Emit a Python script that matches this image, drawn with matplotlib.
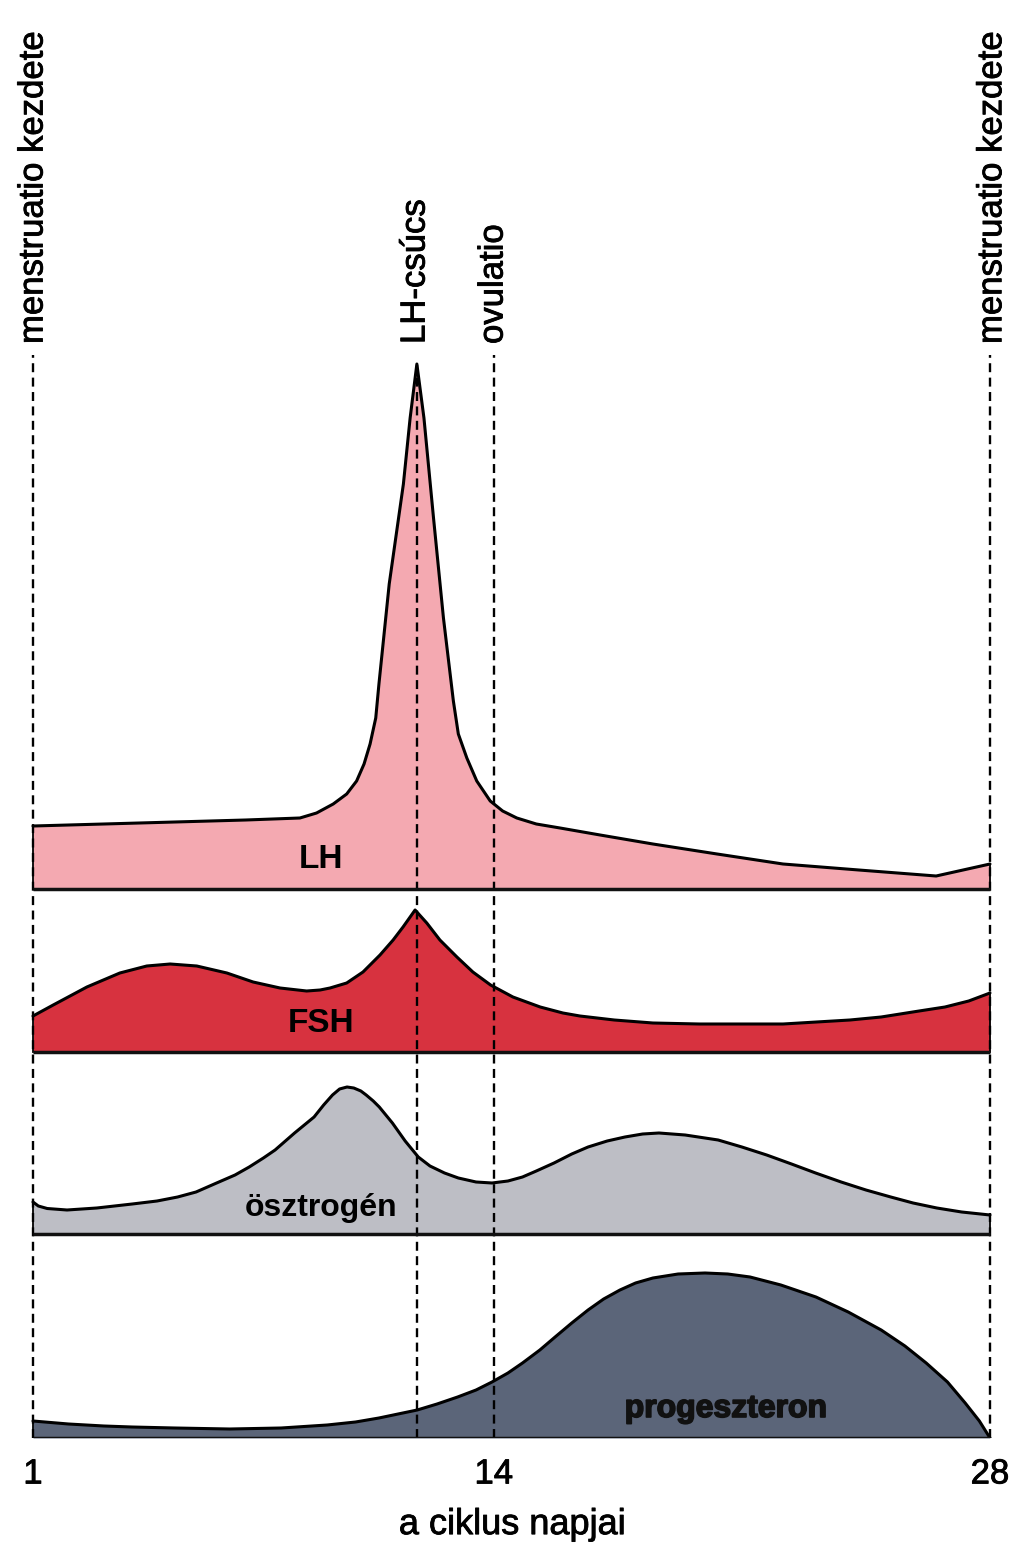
import matplotlib
matplotlib.use("Agg")
import matplotlib.pyplot as plt
import matplotlib.patheffects as pe

plt.rcParams['font.family'] = ['Liberation Sans', 'DejaVu Sans']

# ---------------- data (relative hormone levels, arbitrary units) ----------------
lh_days = [1, 3, 5, 7, 8.53, 9.0, 9.47, 9.85, 10.13, 10.34, 10.51, 10.67, 10.76,
           11.05, 11.45, 11.64, 11.83, 12.03, 12.30, 12.58, 12.86, 13.0, 13.24,
           13.52, 13.9, 14.25, 14.65, 15.2, 15.87, 17.0, 18.49, 20.3, 22.16,
           24.3, 26.48, 28]
lh_vals = [63, 65, 67, 69, 71, 76, 85, 95, 108, 125, 145, 171, 205,
           305, 405, 471, 525, 471, 371, 271, 188, 155, 131,
           108, 88, 78, 71, 65, 61, 54, 45, 35, 25,
           19, 13, 25]

fsh_days = [1, 1.57, 2.52, 3.45, 4.21, 4.87, 5.62, 6.47, 7.21, 7.97, 8.72, 9.1,
            9.38, 9.85, 10.31, 10.79, 11.16, 11.44, 11.78, 12.11, 12.48, 12.96,
            13.41, 13.91, 14.54, 15.31, 15.95, 16.43, 17.4, 18.49, 19.8, 22.16,
            24.05, 24.93, 26.0, 26.73, 27.4, 28]
fsh_vals = [36, 47, 65, 79, 86, 88, 86, 79, 70, 64, 61, 62,
            64, 69, 80, 97, 112, 125, 142, 129, 112, 95,
            80, 67, 55, 45, 39, 36, 32, 29, 28, 28,
            32, 35, 41, 45, 51, 59]

est_days = [1, 1.15, 1.4, 1.96, 2.8, 3.8, 4.5, 5.08, 5.6, 6.18, 6.7, 7.1, 7.5,
            7.83, 8.38, 8.93, 9.2, 9.45, 9.65, 9.86, 10.05, 10.25, 10.4, 10.6,
            10.77, 11.14, 11.5, 11.87, 12.2, 12.61, 13.0, 13.5, 13.95, 14.4,
            14.81, 15.2, 15.7, 16.2, 16.66, 17.2, 17.7, 18.2, 18.66, 19.4,
            20.33, 21.0, 21.7, 22.4, 23.08, 23.8, 24.5, 25.2, 25.83, 26.5,
            27.2, 28]
est_vals = [32, 28, 25.5, 24, 26, 30, 33, 37, 42, 51, 59, 67, 76,
            84, 101, 117, 129, 139, 145, 147, 146, 143, 139, 133,
            127, 111, 93, 77, 68, 61, 56, 52, 51, 53,
            57, 63, 71, 80, 87, 93, 97, 100, 101, 99,
            94, 87, 79, 70, 61, 52, 44, 37, 31, 26,
            22, 19]

prog_days = [1, 2, 3, 3.79, 5, 6.55, 8, 9.3, 10.1, 10.76, 11.3, 11.84, 12.4,
             12.98, 13.5, 13.95, 14.4, 14.81, 15.3, 15.73, 16.2, 16.66, 17.1,
             17.56, 18.0, 18.49, 19.2, 19.96, 20.6, 21.23, 22.1, 23.09, 24.0,
             24.93, 25.6, 26.2, 26.8, 27.3, 27.7, 28]
prog_vals = [17, 14, 12, 11, 10, 9, 10, 13, 16, 20, 24, 28, 34,
             41, 48, 56, 65, 75, 88, 101, 115, 128, 139,
             148, 155, 160, 164, 165, 164, 161, 153, 141, 126,
             108, 92, 75, 56, 35, 17, 0]

tick_days = [1, 14, 28]
tick_labels = ["1", "14", "28"]
xlabel = "a ciklus napjai"

markers = [1, 11.84, 14, 28]
marker_labels = ["menstruatio kezdete", "LH-csúcs", "ovulatio", "menstruatio kezdete"]

panel_names = ["LH", "FSH", "ösztrogén", "progeszteron"]

# ---------------- layout / style ----------------
W, H = 1024, 1556
fig = plt.figure(figsize=(W / 100, H / 100), dpi=100)
ax = fig.add_axes([0, 118 / H, 1, 1438 / H])
px_per_day = (990 - 33) / 27.0
ax.set_xlim(1 - 33 / px_per_day, 1 + (W - 33) / px_per_day)
ax.set_ylim(0, 1438)
for s in ax.spines.values():
    s.set_visible(False)

bases = {"LH": 549, "FSH": 386, "ösztrogén": 204, "progeszteron": 0}
colors = {"LH": "#F4A9B1", "FSH": "#D7323F", "ösztrogén": "#BDBEC5",
          "progeszteron": "#5B6579"}
series = {"LH": (lh_days, lh_vals), "FSH": (fsh_days, fsh_vals),
          "ösztrogén": (est_days, est_vals), "progeszteron": (prog_days, prog_vals)}

for name in panel_names:
    d, v = series[name]
    b = bases[name]
    top = [b + val for val in v]
    ax.fill_between(d, b, top, color=colors[name], lw=0, zorder=1)
    ax.plot(d, top, color="black", lw=2.2, zorder=4, solid_joinstyle="round",
            solid_capstyle="round")
    ax.plot([d[0], d[0]], [b, top[0]], color="black", lw=1.3, zorder=4)
    ax.plot([d[-1], d[-1]], [b, top[-1]], color="black", lw=1.3, zorder=4)
    ax.plot([d[0], d[-1]], [b, b], color="#111111", lw=2.5, zorder=5,
            solid_capstyle="butt")

# dashed vertical marker lines
line_tops = [1083, 1438 - 365, 1083, 1083]
for xm, yt in zip(markers, line_tops):
    ax.plot([xm, xm], [0, yt], color="black", lw=1.7, ls=(0, (3.8, 2.3)), zorder=3)

# rotated marker labels
stroke = [pe.withStroke(linewidth=0.6, foreground="black")]
label_x = [1.0, 11.78, 13.98, 28.05]
for xm, txt in zip(label_x, marker_labels):
    ax.text(xm, 1438 - 344, txt, rotation=90, ha="center", va="bottom",
            fontsize=25, color="black", zorder=6, path_effects=stroke)

# panel labels
ax.text(9.13, 1438 - 860, "LH", ha="center", va="center", fontsize=24,
        fontweight="bold", zorder=6)
ax.text(9.14, 1438 - 1023, "FSH", ha="center", va="center", fontsize=24,
        fontweight="bold", zorder=6)
ax.text(9.14, 1438 - 1208, "ösztrogén", ha="center", va="center", fontsize=23,
        fontweight="bold", zorder=6)
ax.text(20.55, 1438 - 1409, "progeszteron", ha="center", va="center",
        fontsize=23, fontweight="bold", color="#111111", zorder=6,
        path_effects=[pe.withStroke(linewidth=1.2, foreground="#111111")])

ax.set_xticks(tick_days)
ax.set_xticklabels(tick_labels)
ax.tick_params(axis="x", length=0, pad=14, labelsize=25)
for t in ax.get_xticklabels():
    t.set_path_effects(stroke)
ax.set_yticks([])
ax.set_xlabel(xlabel, fontsize=26, labelpad=12, path_effects=stroke)

fig.savefig("out.png", dpi=100, facecolor="white")
